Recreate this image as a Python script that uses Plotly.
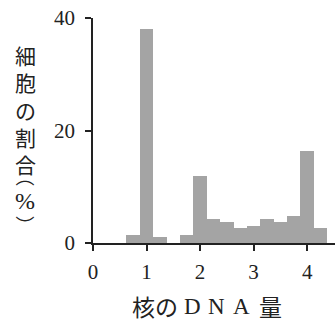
import plotly.graph_objects as go

# Histogram of nuclear DNA content (bin centres, width 0.25)
dna_amount = [0.75, 1.0, 1.25, 1.75, 2.0, 2.25, 2.5, 2.75, 3.0, 3.25, 3.5, 3.75, 4.0, 4.25]
cell_percent = [1.5, 38.0, 1.0, 1.4, 12.0, 4.2, 3.7, 2.6, 3.1, 4.2, 3.8, 4.8, 16.3, 2.6]
bin_width = 0.25

x_ticks = [0, 1, 2, 3, 4]
y_ticks = [0, 20, 40]

W, H = 335, 325
L, R, T, B = 93, 0, 18, 82
plot_w = W - L - R
plot_h = H - T - B

ink = "#222222"
cjk = "Noto Sans CJK JP"
serif = "Liberation Serif"


def px(xp):
    return (xp - L) / plot_w


def py(yp):
    return (H - B - yp) / plot_h


fig = go.Figure(
    go.Bar(
        x=dna_amount,
        y=cell_percent,
        width=[bin_width] * len(dna_amount),
        marker=dict(
            color="#9c9c9c",
            line=dict(width=0),
            pattern=dict(shape=".", fgcolor="#4a4a4a", bgcolor="#bcbcbc",
                         size=2, solidity=0.5),
        ),
        hoverinfo="skip",
    )
)

fig.update_layout(
    width=W, height=H,
    margin=dict(l=L, r=R, t=T, b=B),
    paper_bgcolor="white", plot_bgcolor="white",
    showlegend=False, bargap=0,
    font=dict(family=serif, size=20, color=ink),
)

fig.update_xaxes(
    range=[0, 4.52], tickvals=x_ticks, ticktext=[str(v) for v in x_ticks],
    showgrid=False, zeroline=False, showline=True, linecolor=ink, linewidth=1.5,
    ticks="outside", ticklen=6, tickwidth=1.5, tickcolor=ink,
    tickfont=dict(family=serif, size=21, color=ink), ticklabelstandoff=3,
)
fig.update_yaxes(
    range=[0, 40], tickvals=y_ticks, ticktext=[str(v) for v in y_ticks],
    showgrid=False, zeroline=False, showline=True, linecolor=ink, linewidth=1.5,
    ticks="outside", ticklen=6, tickwidth=1.5, tickcolor=ink,
    tickfont=dict(family=serif, size=21, color=ink), ticklabelstandoff=6,
)

annotations = []

# vertical y-axis title: kanji stacked one per line
kanji = ["細", "胞", "の", "割", "合"]
annotations.append(dict(
    text="<br>".join(kanji),
    x=px(25), y=py(109), xref="paper", yref="paper",
    xanchor="center", yanchor="middle", showarrow=False, align="center",
    font=dict(family=cjk, size=21, color=ink),
))
# "(%)" in vertical writing, using the vertical presentation-form parentheses
annotations.append(dict(
    text='︵<br><span style="font-family:Liberation Serif;font-size:24px">%</span><br>︶',
    x=px(25), y=py(200), xref="paper", yref="paper",
    xanchor="center", yanchor="middle", showarrow=False, align="center",
    font=dict(family=cjk, size=19, color=ink),
))

# x-axis title: 核のDNA量
x_title = [("核", 143, cjk, 23), ("の", 166, cjk, 23), ("D", 192, serif, 23),
           ("N", 216, serif, 23), ("A", 241, serif, 23), ("量", 270, cjk, 23)]
for ch, xc, fam, size in x_title:
    annotations.append(dict(
        text=ch, x=px(xc), y=py(306), xref="paper", yref="paper",
        xanchor="center", yanchor="middle", showarrow=False,
        font=dict(family=fam, size=size, color=ink),
    ))

fig.update_layout(annotations=annotations)

fig.write_html("out.html")
